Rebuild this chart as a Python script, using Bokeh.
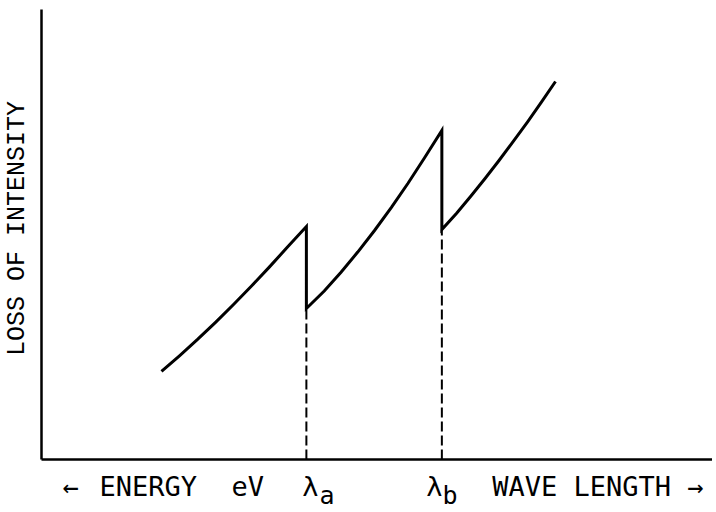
from bokeh.plotting import figure
from bokeh.models import Range1d, Label, FixedTicker
from bokeh.embed import file_html
from bokeh.resources import INLINE

# Schematic absorption curve (arbitrary units 0-100)
curve_x = [17.80, 20.47, 23.15, 25.82, 28.49, 31.16, 33.83, 36.50, 39.30,
           39.30, 41.95, 44.44, 46.92, 49.41, 51.89, 54.38, 56.86, 59.40,
           59.40, 61.59, 63.69, 65.78, 67.88, 69.97, 72.07, 74.17, 76.26]
curve_y = [19.56, 23.05, 26.69, 30.49, 34.44, 38.55, 42.80, 47.22, 51.78,
           33.56, 37.43, 41.61, 46.10, 50.89, 55.99, 61.39, 67.10, 73.11,
           51.11, 54.74, 58.50, 62.40, 66.44, 70.62, 74.94, 79.40, 84.00]

# absorption edges
edge_x = [39.30, 59.40]
edge_low = [33.56, 51.11]
edge_names = ["a", "b"]
lam_label_x = [39.9, 58.3]
sub_label_x = [41.25, 59.5]

y_label = "LOSS OF INTENSITY"
x_left_words = ["←", "ENERGY", "eV"]
x_left_pos = [3.12, 8.61, 28.19]
x_right_label = "WAVE LENGTH →"

W, H = 712, 511
PX, PY = 6.74, 4.5          # pixels per data unit
ox, oy = 41, 459            # canvas position of the origin
x_start, x_end = -ox / PX, (W - ox) / PX
y_start, y_end = -(H - oy) / PY, oy / PY

p = figure(width=W, height=H, output_backend="svg", toolbar_location=None,
           x_range=Range1d(x_start, x_end), y_range=Range1d(y_start, y_end),
           min_border=0)
p.outline_line_color = None
p.grid.visible = False
p.background_fill_color = "white"
p.border_fill_color = "white"

for ax in (p.xaxis, p.yaxis):
    ax.ticker = FixedTicker(ticks=[])
    ax.fixed_location = 0
    ax.axis_line_width = 2.5
    ax.axis_line_color = "black"
    ax.major_tick_line_color = None
    ax.minor_tick_line_color = None
    ax.major_tick_out = 0
    ax.major_label_text_font_size = "0px"
p.xaxis.bounds = (0, x_end)
p.yaxis.bounds = (0, 100)

p.line(curve_x, curve_y, line_width=3, line_color="black", line_join="miter")
p.segment(x0=edge_x, y0=[0, 0], x1=edge_x, y1=edge_low, line_width=2,
          line_color="black", line_dash="10 4")

mono = "DejaVu Sans Mono"
fs = "27px"
base_y = -6.0
sub_y = -8.1

p.add_layout(Label(x=-3.56, y=51.33, text=y_label, angle=1.5708,
                   text_align="center", text_baseline="middle",
                   text_font="Liberation Mono", text_font_size="25px",
                   text_color="black"))
for word, wx in zip(x_left_words, x_left_pos):
    p.add_layout(Label(x=wx, y=base_y, text=word,
                       text_align="left", text_baseline="middle",
                       text_font=mono, text_font_size=fs, text_color="black"))
p.add_layout(Label(x=(704 - 42) / PX, y=base_y, text=x_right_label,
                   text_align="right", text_baseline="middle",
                   text_font=mono, text_font_size=fs, text_color="black"))
for lx, sx, nm in zip(lam_label_x, sub_label_x, edge_names):
    p.add_layout(Label(x=lx, y=base_y, text="λ", text_align="center",
                       text_baseline="middle", text_font=mono,
                       text_font_size=fs, text_color="black"))
    p.add_layout(Label(x=sx, y=sub_y, text=nm, text_align="left",
                       text_baseline="middle", text_font=mono,
                       text_font_size="25px", text_color="black"))

open("out.html", "w").write(file_html(p, INLINE))
